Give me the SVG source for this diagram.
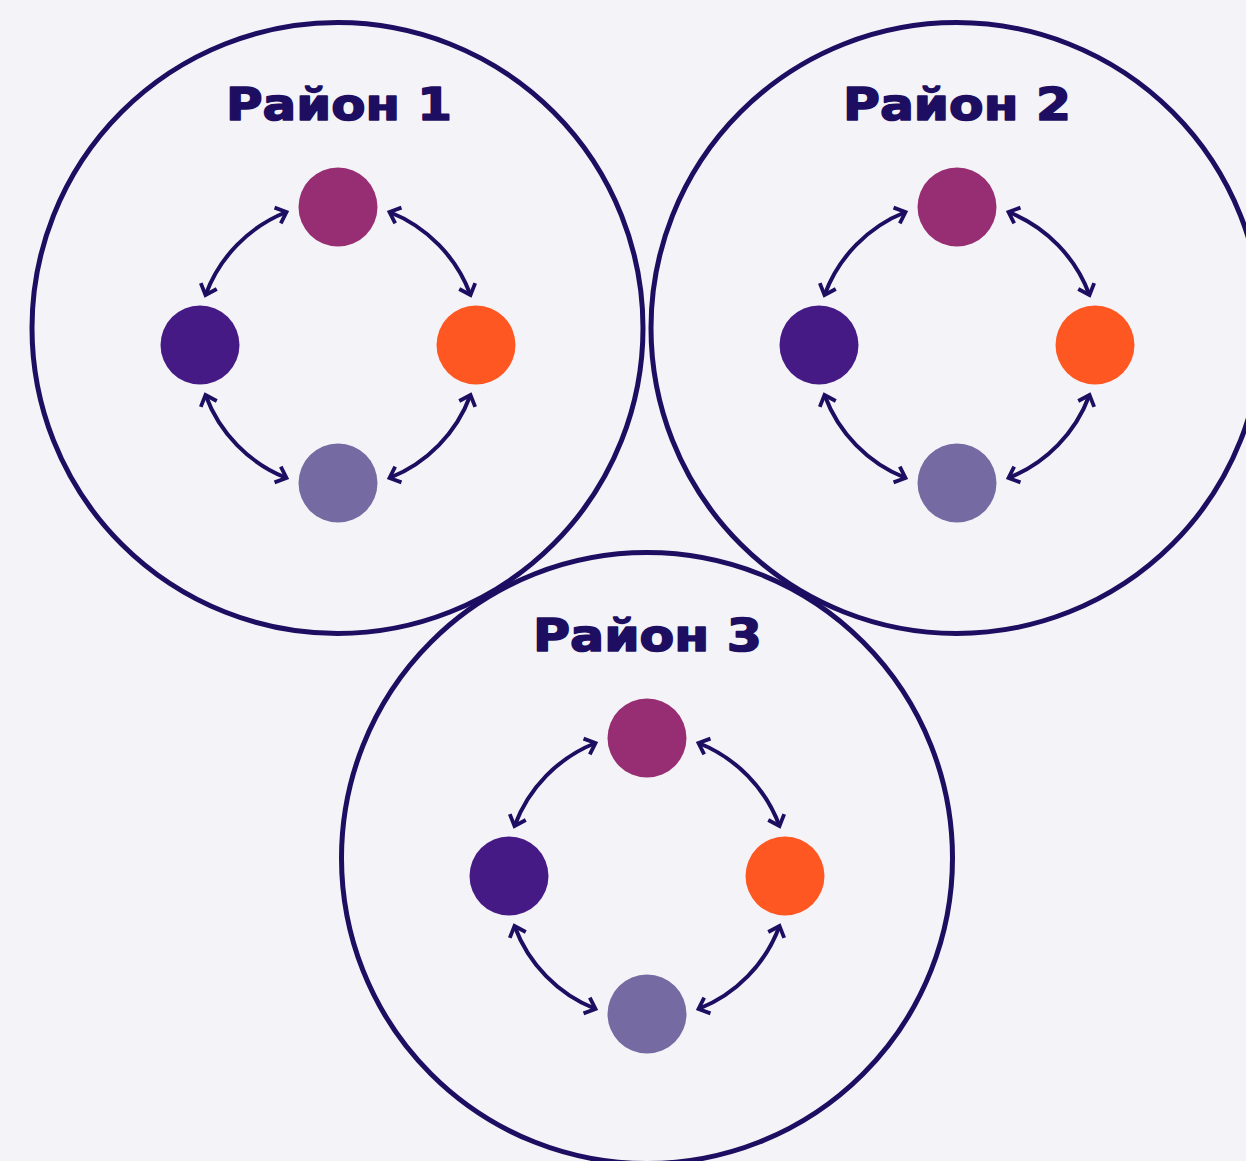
<svg xmlns="http://www.w3.org/2000/svg" width="1246" height="1161" viewBox="0 0 1246 1161">
<defs>
<style>
.bg{fill:#f4f3f8}
.ring{fill:none;stroke:#1e0e62;stroke-width:5}
.title{font-family:"DejaVu Sans",sans-serif;font-weight:bold;font-size:45px;fill:#1e0e62;stroke:#1e0e62;stroke-width:1.6;stroke-linejoin:round;text-anchor:middle}
.n1{fill:#972d72}.n2{fill:#461a85}.n3{fill:#ff5722}.n4{fill:#766aa2}
.arc{fill:none;stroke:#1e0e62;stroke-width:4;marker-start:url(#ah);marker-end:url(#ah)}
</style>
<marker id="ah" viewBox="-14 -12 18 24" markerWidth="18" markerHeight="24" refX="0" refY="0" markerUnits="userSpaceOnUse" orient="auto-start-reverse" overflow="visible">
<path d="M-9.5,-8.5 L0,0 L-9.5,8.5" fill="none" stroke="#1e0e62" stroke-width="3.8" stroke-linecap="butt" stroke-linejoin="miter"/>
</marker>
</defs>
<rect class="bg" x="0" y="0" width="1246" height="1161"/>

<g id="district1">
<circle class="ring" cx="337.5" cy="328" r="305.5"/>
<text class="title" x="339" y="120" textLength="226" lengthAdjust="spacingAndGlyphs">Район 1</text>
<circle id="d1-top" class="n1" cx="338" cy="207" r="39.5"/>
<circle id="d1-left" class="n2" cx="200" cy="345" r="39.5"/>
<circle id="d1-right" class="n3" cx="476" cy="345" r="39.5"/>
<circle id="d1-bottom" class="n4" cx="338" cy="483" r="39.5"/>
</g>

<g id="district2">
<circle class="ring" cx="956.5" cy="328" r="305.5"/>
<text class="title" x="957" y="120" textLength="228" lengthAdjust="spacingAndGlyphs">Район 2</text>
<circle id="d2-top" class="n1" cx="957" cy="207" r="39.5"/>
<circle id="d2-left" class="n2" cx="819" cy="345" r="39.5"/>
<circle id="d2-right" class="n3" cx="1095" cy="345" r="39.5"/>
<circle id="d2-bottom" class="n4" cx="957" cy="483" r="39.5"/>
</g>

<g id="district3">
<circle class="ring" cx="647" cy="858" r="305.5"/>
<text class="title" x="647.5" y="651" textLength="229" lengthAdjust="spacingAndGlyphs">Район 3</text>
<circle id="d3-top" class="n1" cx="647" cy="738" r="39.5"/>
<circle id="d3-left" class="n2" cx="509" cy="876" r="39.5"/>
<circle id="d3-right" class="n3" cx="785" cy="876" r="39.5"/>
<circle id="d3-bottom" class="n4" cx="647" cy="1014" r="39.5"/>
</g>

<g id="connectors">
<path class="arc" d="M286.5,212 A142,142 0 0 0 205.5,295"/>
<path class="arc" d="M389.5,212 A142,142 0 0 1 470.5,295"/>
<path class="arc" d="M205.5,395 A142,142 0 0 0 286.5,478"/>
<path class="arc" d="M470.5,395 A142,142 0 0 1 389.5,478"/>

<path class="arc" d="M905.5,212 A142,142 0 0 0 824.5,295"/>
<path class="arc" d="M1008.5,212 A142,142 0 0 1 1089.5,295"/>
<path class="arc" d="M824.5,395 A142,142 0 0 0 905.5,478"/>
<path class="arc" d="M1089.5,395 A142,142 0 0 1 1008.5,478"/>

<path class="arc" d="M595.5,743 A142,142 0 0 0 514.5,826"/>
<path class="arc" d="M698.5,743 A142,142 0 0 1 779.5,826"/>
<path class="arc" d="M514.5,926 A142,142 0 0 0 595.5,1009"/>
<path class="arc" d="M779.5,926 A142,142 0 0 1 698.5,1009"/>
</g>
</svg>
